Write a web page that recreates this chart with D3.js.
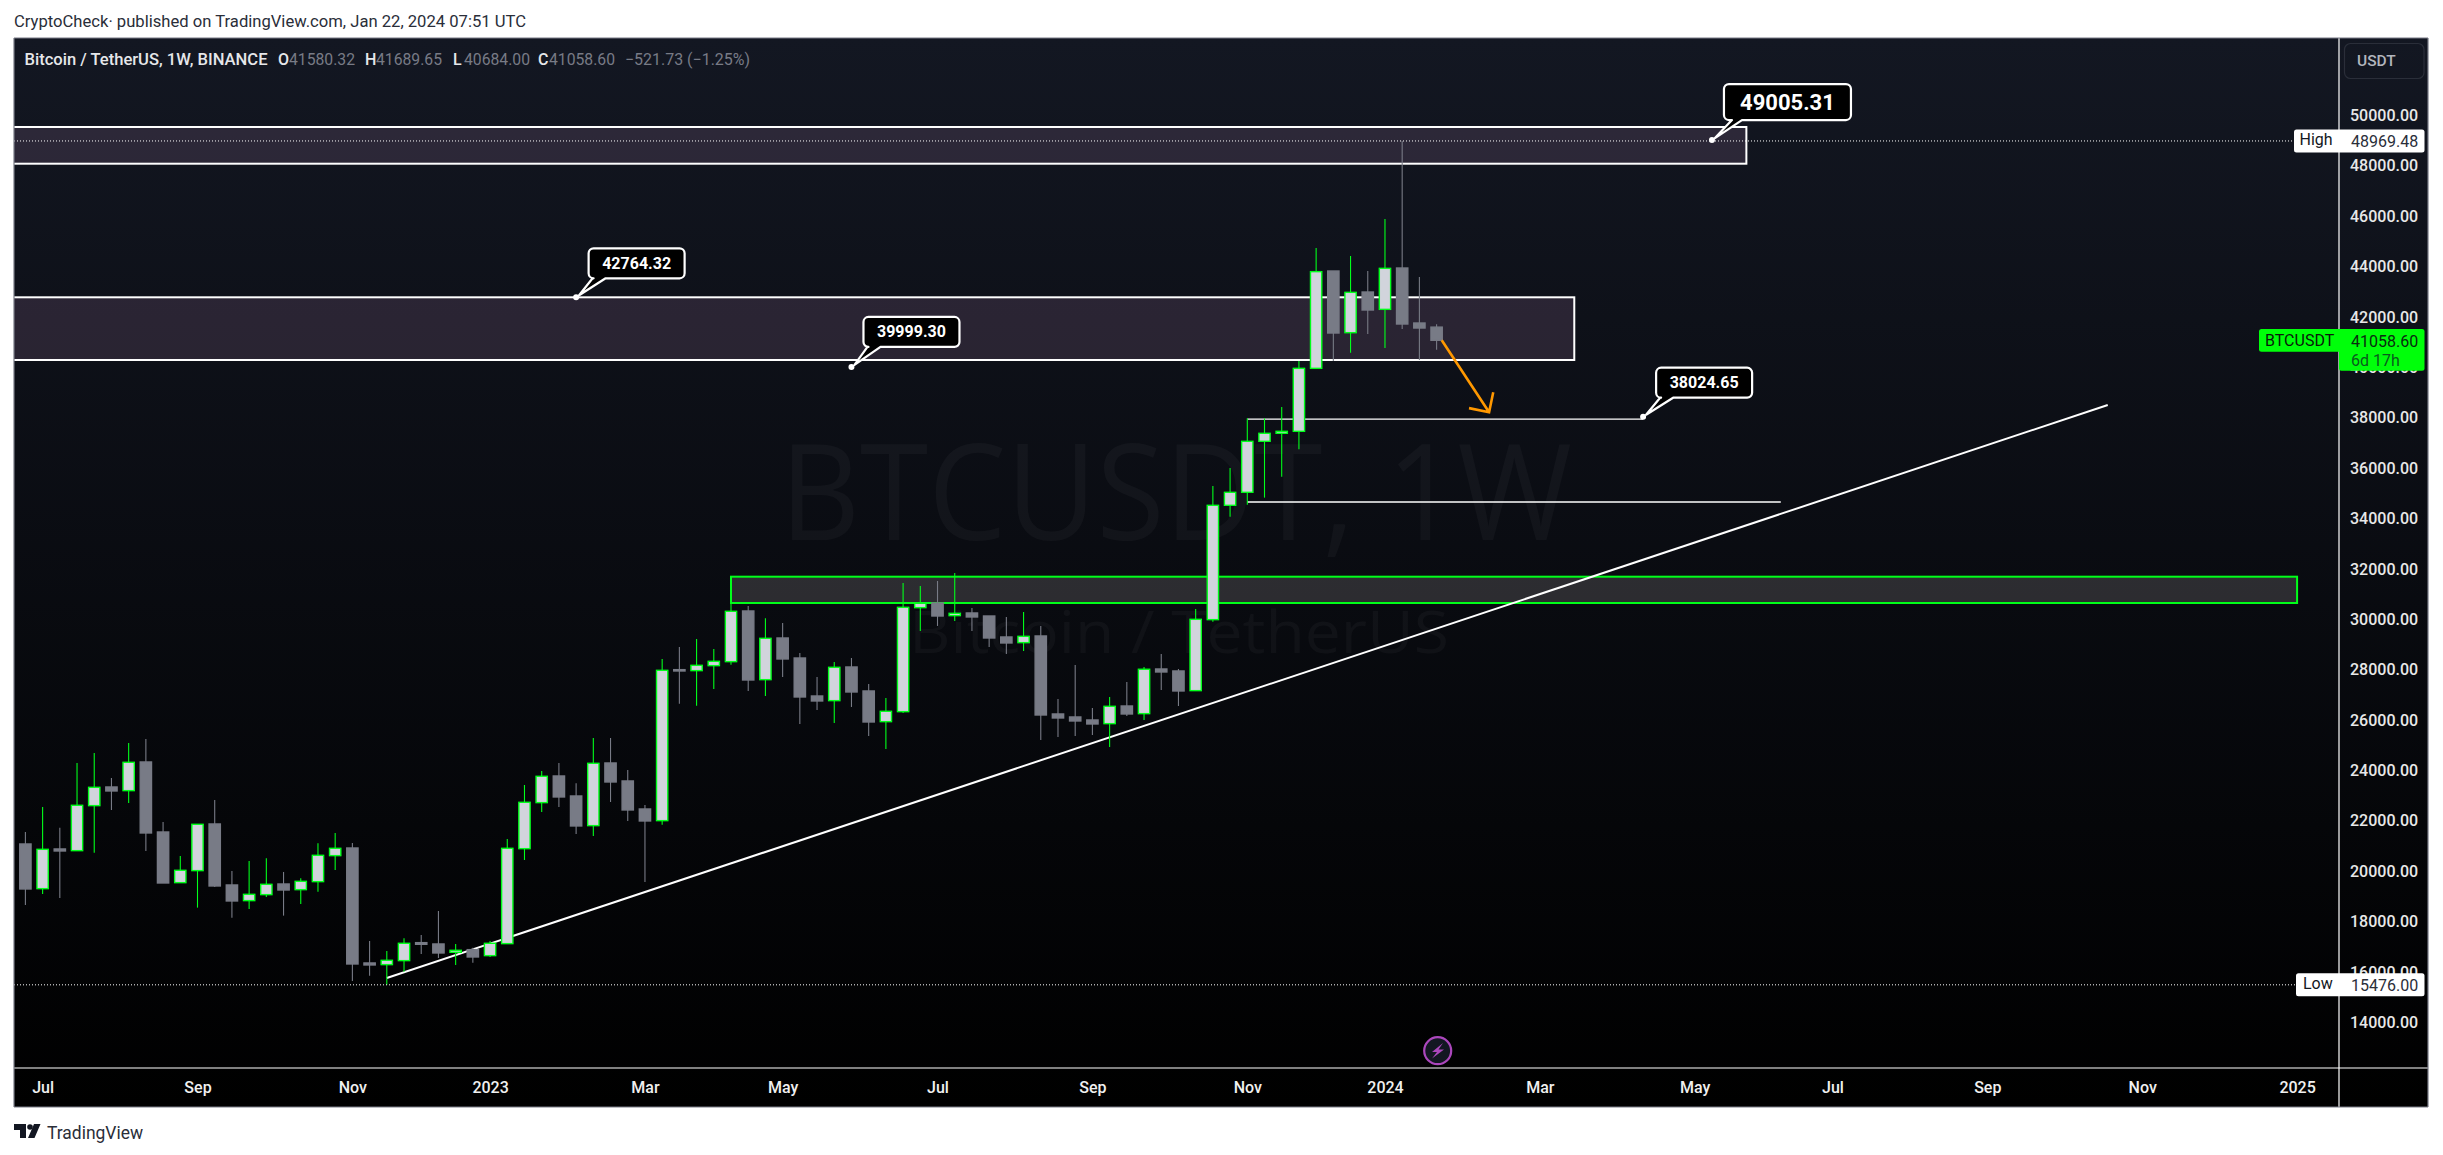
<!DOCTYPE html>
<html><head><meta charset="utf-8">
<style>html,body{margin:0;padding:0;background:#fff}svg{display:block}text{font-family:Roboto,sans-serif}</style>
<script src="https://cdn.jsdelivr.net/npm/d3@7/dist/d3.min.js"></script>
</head><body><svg id="c" width="2443" height="1155"></svg>
<script>
// weekly candles, index 0 = week of 27 Jun 2022, index 82 = week of 22 Jan 2024
const opens=[21066,19293,20868,20801,22588,23328,23183,24321,21542,19531,20008,21860,19439,18817,19055,19478,19253,19571,20603,20907,16343,16277,16436,17150,17097,16766,16872,16634,17110,20880,22707,23765,22971,21794,24281,23567,22455,21992,27985,27946,28144,28303,30314,27588,29242,28448,26940,26755,28091,27139,25921,26318,30446,30631,30129,30235,30115,29282,29057,29322,26226,26107,25988,25842,26543,26239,28012,27933,27152,29970,34508,35024,37048,37366,37445,39945,43808,41360,42974,42286,43927,41744,41580.32];
const highs=[21542,22535,21714,24281,24678,23686,25075,25234,21939,20590,21847,22812,19995,20391,20497,19955,19703,21093,21503,21106,17216,16819,17322,17454,18407,17097,16951,17216,21265,23408,23963,24281,23474,25273,25273,24003,22614,28409,28885,29203,28806,30618,30512,30023,29838,28647,27694,28290,28448,27417,26861,31425,31306,31505,31822,30433,30115,30076,30274,29719,26821,28171,26464,26900,27496,28091,28607,28012,30393,35275,35989,37961,37961,38411,40236,44721,43808,44403,43808,45872,48969.48,43570,41689.65];
const lows=[18645,19082,18923,20790,20722,22416,22693,20788,19518,19531,18539,19360,18142,18486,18962,18222,18685,19174,20034,15628,15840,15476,15999,16700,16541,16264,16356,16581,17110,20431,22336,22535,21463,21384,22733,21979,19558,21833,26636,26557,27218,28184,27139,26940,27694,25829,26385,25869,26504,25353,24837,26265,29520,29719,29917,29520,28885,28607,28726,25194,25313,25353,25393,24916,26146,25988,27179,26543,27152,29890,34058,34534,34812,35646,36730,39945,40236,40567,41307,40752,41506,40276,40684];
const closes=[19280,20854,20788,22601,23315,23170,24308,21503,19518,20021,21847,19399,18804,19068,19465,19240,19584,20616,20894,16303,16264,16449,17124,17084,16740,16846,16581,17124,20894,22720,23752,22932,21781,24268,23527,22416,21979,27959,27932,28157,28316,30301,27575,29229,28409,26901,26742,28078,27099,25908,26332,30459,30618,30115,30221,30076,29242,29044,29308,26186,26067,25948,25829,26530,26226,28001,27893,27139,29983,34508,35024,37048,37366,37445,39945,43782,41347,42961,42260,43914,41704,41545,41058.60];

// axis labels
const priceTicks=d3.range(14000,50001,2000);
const timeWeeks=[1,10,19,27,36,44,53,62,71,79,88,97,105,114,123,132];
const timeLabels=["Jul","Sep","Nov","2023","Mar","May","Jul","Sep","Nov","2024","Mar","May","Jul","Sep","Nov","2025"];

// drawings: weeks are candle indexes, values are prices
const zoneWeeks=[[-10,100],[-10,90],[41,132]];
const zonePrices=[[49524,48067],[42764,40276],[31675,30631]];
const zoneKinds=["purple","purple","green"];
const levelWeeks=[[71,94],[71,102]];
const levelPrices=[37925,34640];
const trendWeeks=[21,121];
const trendPrices=[15746,38490];
const arrowWeeks=[82.3,85.05];
const arrowPrices=[41060,38200];
const calloutWeeks=[32,48,94,98];
const calloutPrices=[42764.32,39999.30,38024.65,49005.31];
const calloutTexts=["42764.32","39999.30","38024.65","49005.31"];
const highValue=48969.48, lowValue=15476.00, lastValue=41058.60;

const svg=d3.select("#c");
const P={l:14,t:38,r:2339,R:2428,b:1068,B:1107};
const x=d3.scaleLinear().domain([0,82]).range([25.4,1436.6]);
const y=d3.scaleLinear().domain([14000,50000]).range([1022,115]);

const defs=svg.append("defs");
const g=defs.append("linearGradient").attr("id","bg").attr("x1",0).attr("y1",0).attr("x2",0).attr("y2",1);
g.append("stop").attr("offset","0").attr("stop-color","#131722");
g.append("stop").attr("offset","1").attr("stop-color","#000000");
defs.append("clipPath").attr("id","plot").append("rect").attr("x",P.l).attr("y",P.t).attr("width",P.r-P.l).attr("height",P.b-P.t);

function T(parent,s,px,py,o={}){
  const t=parent.append("text").text(s).attr("x",px).attr("y",py).attr("dominant-baseline","central")
   .attr("font-size",o.size||16).attr("fill",o.fill||"#fff").attr("font-weight",o.weight||400)
   .attr("text-anchor",o.anchor||"start");
  if(o.len) t.attr("textLength",o.len).attr("lengthAdjust","spacingAndGlyphs");
  if(o.family) t.style("font-family",o.family);
  return t;
}
// page text
T(svg,"CryptoCheck· published on TradingView.com, Jan 22, 2024 07:51 UTC",14,21.5,{fill:"#2a2e39",size:16,len:512});
// panel
svg.append("rect").attr("x",P.l).attr("y",P.t).attr("width",P.R-P.l).attr("height",P.B-P.t).attr("fill","url(#bg)");

const plot=svg.append("g").attr("clip-path","url(#plot)");
// watermarks
T(plot,"BTCUSDT, 1W",780,488,{size:134,fill:"rgba(255,255,255,0.035)",len:792,family:"'Open Sans'"});
T(plot,"Bitcoin / TetherUS",909,630,{size:58,fill:"rgba(255,255,255,0.035)",len:540,family:"'Open Sans'"});

// zones
zoneWeeks.forEach((w,i)=>{
  const green=zoneKinds[i]==="green";
  plot.append("rect").attr("x",x(w[0])).attr("y",y(zonePrices[i][0]))
   .attr("width",x(w[1])-x(w[0])).attr("height",y(zonePrices[i][1])-y(zonePrices[i][0]))
   .attr("fill",green?"rgba(185,182,180,0.2)":"rgba(170,125,170,0.18)")
   .attr("stroke",green?"#00ff1a":"#ffffff").attr("stroke-width",2);
});
// horizontal levels
levelWeeks.forEach((w,i)=>{
  plot.append("line").attr("x1",x(w[0])).attr("x2",x(w[1])).attr("y1",y(levelPrices[i])).attr("y2",y(levelPrices[i]))
   .attr("stroke","#fff").attr("stroke-width",1.3);
});
// trend line
plot.append("line").attr("x1",x(trendWeeks[0])).attr("y1",y(trendPrices[0])).attr("x2",x(trendWeeks[1])).attr("y2",y(trendPrices[1]))
   .attr("stroke","#fff").attr("stroke-width",2);

// candles
const idx=d3.range(opens.length);
const bw=11.3;
plot.append("g").selectAll("line").data(idx).join("line")
  .attr("x1",i=>x(i)).attr("x2",i=>x(i)).attr("y1",i=>y(highs[i])).attr("y2",i=>y(lows[i]))
  .attr("stroke",i=>closes[i]>=opens[i]?"#00ff1a":"#787b86").attr("stroke-width",1.1);
plot.append("g").selectAll("rect").data(idx).join("rect")
  .attr("x",i=>x(i)-bw/2).attr("width",bw)
  .attr("y",i=>y(Math.max(opens[i],closes[i])))
  .attr("height",i=>Math.max(1,Math.abs(y(opens[i])-y(closes[i]))))
  .attr("fill",i=>closes[i]>=opens[i]?"#d1d4dc":"#787b86")
  .attr("stroke",i=>closes[i]>=opens[i]?"#00ff1a":"#787b86").attr("stroke-width",1.4);

// orange arrow
(function(){
  const a=[x(arrowWeeks[0]),y(arrowPrices[0])],b=[x(arrowWeeks[1]),y(arrowPrices[1])];
  const ang=Math.atan2(b[1]-a[1],b[0]-a[0]),L=20.5,sp=0.785;
  const p=d3.path();p.moveTo(a[0],a[1]);p.lineTo(b[0],b[1]);
  p.moveTo(b[0]-L*Math.cos(ang-sp),b[1]-L*Math.sin(ang-sp));p.lineTo(b[0],b[1]);p.lineTo(b[0]-L*Math.cos(ang+sp),b[1]-L*Math.sin(ang+sp));
  plot.append("path").attr("d",p.toString()).attr("fill","none").attr("stroke","#ff9800").attr("stroke-width",2.6);
})();

// high / low dotted lines
plot.append("line").attr("x1",P.l).attr("x2",2294).attr("y1",y(highValue)).attr("y2",y(highValue)).attr("stroke","#fff").attr("stroke-dasharray","1 2");
plot.append("line").attr("x1",P.l).attr("x2",2296).attr("y1",y(lowValue)).attr("y2",y(lowValue)).attr("stroke","#fff").attr("stroke-dasharray","1 2");

// callouts
const boxW=[96,96,96,127], boxH=[30,30,30,36], boxDX=[12.5,12,13,12], boxDY=[-49,-50,-49,-56], tailA=[4,4,4,8], tailB=[17,17,17,18], fs=[16,16,16,22];
calloutWeeks.forEach((w,i)=>{
  const ax=x(w),ay=y(calloutPrices[i]),x0=ax+boxDX[i],y0=ay+boxDY[i],x1=x0+boxW[i],y1=y0+boxH[i],r=5;
  const p=d3.path();
  p.moveTo(x0+r,y0);p.lineTo(x1-r,y0);p.arcTo(x1,y0,x1,y0+r,r);p.lineTo(x1,y1-r);p.arcTo(x1,y1,x1-r,y1,r);
  p.lineTo(x0+tailB[i],y1);p.lineTo(ax+3,ay-2);p.lineTo(x0+tailA[i],y1);p.lineTo(x0+r,y1);p.arcTo(x0,y1,x0,y1-r,r);p.lineTo(x0,y0+r);p.arcTo(x0,y0,x0+r,y0,r);p.closePath();
  plot.append("path").attr("d",p.toString()).attr("fill","#000").attr("stroke","#fff").attr("stroke-width",2.2).attr("stroke-linejoin","round");
  plot.append("circle").attr("cx",ax).attr("cy",ay).attr("r",3).attr("fill","#fff");
  T(plot,calloutTexts[i],(x0+x1)/2,(y0+y1)/2,{anchor:"middle",size:fs[i],weight:700});
});

// lightning badge
svg.append("circle").attr("cx",1437.7).attr("cy",1050.7).attr("r",13.5).attr("fill","#131722").attr("stroke","#ab47bc").attr("stroke-width",2.2);
svg.append("path").attr("d","M1443 1043L1432 1052H1437L1432 1058.5L1444 1049.5H1438.5Z").attr("fill","#ab47bc");

// header legend
T(svg,"Bitcoin / TetherUS, 1W, BINANCE",24.5,59,{weight:500,fill:"#e6e7ea",len:243});
[["O","41580.32",278],["H","41689.65",365],["L","40684.00",453],["C","41058.60",538]].forEach(d=>{
  T(svg,d[0],d[2],59,{weight:500,fill:"#e6e7ea"});
  T(svg,d[1],d[2]+11,59,{fill:"#787b86",len:66});
});
T(svg,"−521.73 (−1.25%)",625,59,{fill:"#787b86",len:125});

// axes
const ay=d3.axisRight(y).tickValues(priceTicks).tickSize(0).tickPadding(0).tickFormat(d3.format(".2f"));
const gy=svg.append("g").attr("transform",`translate(2350,0)`).call(ay);
gy.select(".domain").remove();
gy.selectAll("text").attr("font-size",16).attr("fill","#e8e8e8").attr("font-weight",500).attr("dy",null).attr("dominant-baseline","central").style("font-family","Roboto");
const ax=d3.axisBottom(x).tickValues(timeWeeks).tickSize(0).tickPadding(0).tickFormat((d,i)=>timeLabels[i]);
const gx=svg.append("g").attr("transform",`translate(0,1087)`).call(ax);
gx.select(".domain").remove();
gx.selectAll("text").attr("font-size",16).attr("fill","#f0f0f0").attr("font-weight",500).attr("dy",null).attr("y",0).attr("dominant-baseline","central").style("font-family","Roboto");

// frame
const ln=(x1,y1,x2,y2,c)=>svg.append("line").attr("x1",x1).attr("y1",y1).attr("x2",x2).attr("y2",y2).attr("stroke",c).attr("stroke-width",1.2);
ln(P.r,P.t,P.r,P.B,"#fff");
ln(P.l,P.b,P.R,P.b,"#fff");
ln(P.l,P.t,P.R,P.t,"#787b86");
ln(P.l,P.t,P.l,P.B,"#787b86");
ln(P.R,P.t,P.R,P.B,"#787b86");
ln(P.l,P.B,P.R,P.B,"#787b86");

// USDT button
svg.append("rect").attr("x",2344.5).attr("y",43.5).attr("width",79.5).attr("height",35).attr("rx",6).attr("fill","none").attr("stroke","#2a2e39").attr("stroke-width",1.2);
T(svg,"USDT",2357,61,{fill:"#b2b5be",size:15.5,weight:500});

// High / Low / last labels
function tag(lbl,val,x0,yc,tx){
  svg.append("rect").attr("x",x0).attr("y",yc-11.5).attr("width",2424.5-x0).attr("height",23).attr("rx",2.5).attr("fill","#fff");
  T(svg,lbl,tx,yc-1,{fill:"#131722",size:16});
  T(svg,val,2351,yc+0.5,{fill:"#2a2e39",size:16});
}
tag("High",highValue.toFixed(2),2294,y(highValue),2299.5);
tag("Low",lowValue.toFixed(2),2296,y(lowValue),2303);
const ly=y(lastValue);
svg.append("rect").attr("x",2259).attr("y",329).attr("width",85).attr("height",22.7).attr("rx",2.5).attr("fill","#00ff0a");
svg.append("rect").attr("x",2339).attr("y",329).attr("width",85.5).attr("height",41.7).attr("rx",2.5).attr("fill","#00ff0a");
T(svg,"BTCUSDT",2265,ly,{fill:"#0a1a0a",size:16});
T(svg,lastValue.toFixed(2),2351,ly+1,{fill:"#0a2a10",size:16});
T(svg,"6d 17h",2351,360,{fill:"#0a5a1e",size:16});

// TradingView logo
svg.append("path").attr("d","M14 1124H26V1138H20V1130H14Z M40.5 1124L34.5 1138H28L34 1124Z").attr("fill","#131722");
svg.append("circle").attr("cx",30).attr("cy",1127).attr("r",2.8).attr("fill","#131722");
T(svg,"TradingView",47,1132,{fill:"#2a2e39",size:19,len:96});
</script></body></html>
